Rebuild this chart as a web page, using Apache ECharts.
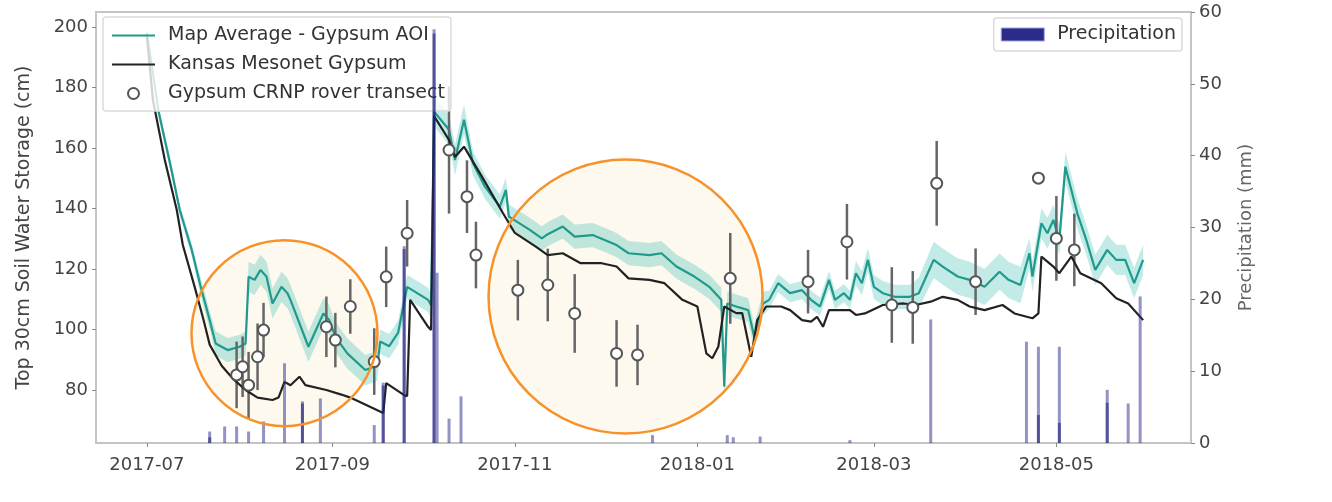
<!DOCTYPE html>
<html>
<head>
<meta charset="utf-8">
<title>Gypsum soil water storage</title>
<script src="https://cdn.jsdelivr.net/npm/echarts@6/dist/echarts.min.js"></script>
<style>
  html, body { margin: 0; padding: 0; background: #fff; }
  #chart { width: 1332px; height: 502px; }
</style>
</head>
<body>
<div id="chart"></div>
<script>
// ---- data ----
// Kansas Mesonet Gypsum (cm)
const mesoDates = ['2017-07-01', '2017-07-03', '2017-07-04', '2017-07-07', '2017-07-11', '2017-07-13', '2017-07-17', '2017-07-20', '2017-07-22', '2017-07-26', '2017-07-30',
  '2017-08-03', '2017-08-07', '2017-08-12', '2017-08-14', '2017-08-16', '2017-08-18', '2017-08-21', '2017-08-23', '2017-08-30',
  '2017-09-04', '2017-09-07', '2017-09-18', '2017-09-19', '2017-09-25', '2017-09-26', '2017-09-27',
  '2017-10-03', '2017-10-04', '2017-10-05', '2017-10-10', '2017-10-12', '2017-10-15', '2017-10-21', '2017-10-28',
  '2017-11-01', '2017-11-08', '2017-11-12', '2017-11-17', '2017-11-23', '2017-11-30',
  '2017-12-05', '2017-12-09', '2017-12-16', '2017-12-21', '2017-12-27',
  '2018-01-01', '2018-01-04', '2018-01-06', '2018-01-08', '2018-01-10', '2018-01-14', '2018-01-16', '2018-01-19', '2018-01-21', '2018-01-24', '2018-01-29',
  '2018-02-01', '2018-02-05', '2018-02-08', '2018-02-10', '2018-02-12', '2018-02-14', '2018-02-21', '2018-02-23', '2018-02-26',
  '2018-03-04', '2018-03-11', '2018-03-15', '2018-03-20', '2018-03-24', '2018-03-29',
  '2018-04-02', '2018-04-07', '2018-04-13', '2018-04-17', '2018-04-23', '2018-04-25', '2018-04-26', '2018-04-30',
  '2018-05-02', '2018-05-06', '2018-05-09', '2018-05-16', '2018-05-21', '2018-05-25', '2018-05-30'];
const mesoVals = [197, 176, 171, 156, 139.5, 128, 114, 103, 95, 88, 83.5,
  80, 77.5, 76.7, 77.5, 82.7, 81.6, 84.4, 81.6, 80,
  78.5, 77.5, 72.4, 82.3, 78.3, 78, 109.8,
  100.9, 99.8, 170.5, 162.6, 157, 160.4, 150.5, 138.5,
  131.9, 127.4, 124.6, 125.2, 121.9, 121.9,
  120.8, 116.9, 116.4, 115.3, 109.8,
  107.6, 92.1, 90.5, 94.3, 107.6, 105.4, 105.4, 91, 103.1, 107.6, 107.6,
  106.4, 103.1, 102.6, 104.2, 100.9, 106.4, 106.4, 104.8, 105.3,
  108.1, 108.6, 108.1, 109.2, 110.8, 109.8,
  107.6, 106.4, 108.1, 105.3, 103.7, 105.3, 124.1, 120.8,
  118.6, 124.1, 118.6, 115.3, 110.3, 108.6, 103.1];

// Map Average - Gypsum AOI (cm) and half width of its shaded band (cm)
const mapDates = ['2017-07-01', '2017-07-05', '2017-07-09', '2017-07-12', '2017-07-16', '2017-07-19', '2017-07-22', '2017-07-24', '2017-07-28',
  '2017-08-01', '2017-08-03', '2017-08-04', '2017-08-06', '2017-08-08', '2017-08-10', '2017-08-12', '2017-08-15', '2017-08-17', '2017-08-18', '2017-08-24', '2017-08-29', '2017-08-31',
  '2017-09-02', '2017-09-06', '2017-09-12', '2017-09-16', '2017-09-17', '2017-09-20', '2017-09-23', '2017-09-26',
  '2017-10-03', '2017-10-04', '2017-10-05', '2017-10-10', '2017-10-12', '2017-10-15', '2017-10-18', '2017-10-22', '2017-10-27', '2017-10-29', '2017-10-30',
  '2017-11-06', '2017-11-10', '2017-11-12', '2017-11-17', '2017-11-21', '2017-11-27',
  '2017-12-01', '2017-12-05', '2017-12-09', '2017-12-16', '2017-12-20', '2017-12-25', '2017-12-31',
  '2018-01-05', '2018-01-09', '2018-01-10', '2018-01-11', '2018-01-14', '2018-01-18', '2018-01-20', '2018-01-23', '2018-01-25', '2018-01-28',
  '2018-02-01', '2018-02-05', '2018-02-08', '2018-02-11', '2018-02-14', '2018-02-16', '2018-02-19', '2018-02-21', '2018-02-23', '2018-02-25', '2018-02-27',
  '2018-03-01', '2018-03-04', '2018-03-08', '2018-03-13', '2018-03-16', '2018-03-21', '2018-03-24', '2018-03-29',
  '2018-04-02', '2018-04-07', '2018-04-12', '2018-04-15', '2018-04-19', '2018-04-22', '2018-04-23', '2018-04-26', '2018-04-28', '2018-04-30',
  '2018-05-02', '2018-05-04', '2018-05-08', '2018-05-11', '2018-05-14', '2018-05-18', '2018-05-21', '2018-05-24', '2018-05-27', '2018-05-30'];
const mapAvg = [198, 171.6, 153.8, 139.5, 126.3, 114.1, 103.1, 95.4, 93.2,
  94.3, 95.4, 117.4, 116.4, 119.7, 117.4, 108.6, 114.1, 112, 109.8, 94.3, 105.3, 103.1,
  97.6, 92.1, 86.6, 88, 96, 94.5, 99, 114.1,
  109.8, 108, 172, 166, 156, 169.3, 154.9, 147.2, 140.6, 146.1, 137.3,
  132.9, 130.1, 131.5, 134, 130.7, 131.2,
  129.6, 127.9, 125.2, 124.6, 125.2, 120.8, 117.5,
  114.1, 109.8, 81.1, 108.6, 107.6, 106.4, 97.6, 108.6, 109.8, 115.3,
  112, 113, 109.8, 107.6, 116.4, 109.8, 112, 109.8, 118.6, 115.3, 123,
  114.1, 112, 110.8, 110.8, 112, 123, 120.8, 117.5,
  116.4, 114.1, 119.1, 116.4, 114.7, 125.2, 117.5, 135.1, 131.8, 136.2,
  129.6, 153.8, 138.4, 129.6, 119.7, 126.3, 123, 123, 115.3, 123];
const mapSpread = [2, 2, 2, 2, 2, 3, 3, 4, 4,
  4, 4, 5, 5, 5, 5, 5, 5, 5, 5, 5, 5, 5,
  5, 5, 5, 5, 4, 4, 4, 4,
  4, 4, 5, 5, 5, 5, 4, 4, 4, 4, 4,
  4, 4, 4, 4, 4, 4,
  4, 4, 4, 4, 4, 4, 4,
  4, 4, 3, 4, 4, 4, 4, 4, 3, 3,
  3, 3, 3, 3, 3, 3, 3, 3, 4, 4, 4,
  4, 4, 4, 4, 5, 6, 6, 6,
  6, 6, 6, 6, 6, 5, 5, 5, 5, 5,
  5, 5, 5, 5, 5, 5, 5, 5, 5, 5];

// Gypsum CRNP rover transect (cm) with error bar half length (cm)
const roverDates = ['2017-07-31', '2017-08-02', '2017-08-04', '2017-08-07', '2017-08-09', '2017-08-30', '2017-09-02', '2017-09-07', '2017-09-15', '2017-09-19',
  '2017-09-26', '2017-10-10', '2017-10-16', '2017-10-19', '2017-11-02', '2017-11-12', '2017-11-21', '2017-12-05', '2017-12-12', '2018-01-12',
  '2018-02-07', '2018-02-20', '2018-03-07', '2018-03-14', '2018-03-22', '2018-04-04', '2018-04-25', '2018-05-01', '2018-05-07'];
const roverVals = [85, 87.7, 81.6, 91, 99.8, 100.9, 96.5, 107.6, 89.4, 117.4,
  131.8, 159.3, 143.9, 124.6, 113, 114.7, 105.3, 92.1, 91.6, 116.9,
  115.8, 129, 108.1, 107.3, 148.3, 115.8, 150, 130.1, 126.3];
const roverErr = [11, 10, 11, 11, 9, 10, 9, 9, 11, 10,
  11, 21, 12, 11, 10, 12, 13, 11, 10, 15,
  10.5, 12.5, 12.5, 12, 14, 11, 0, 14, 12];

// Precipitation (mm)
const rainDates = ['2017-07-22', '2017-07-27', '2017-07-31', '2017-08-04', '2017-08-09', '2017-08-16', '2017-08-22', '2017-08-28',
  '2017-09-15', '2017-09-18', '2017-09-25', '2017-10-05', '2017-10-06', '2017-10-10', '2017-10-14',
  '2017-12-17', '2018-01-11', '2018-01-13', '2018-01-22', '2018-02-21', '2018-03-20',
  '2018-04-21', '2018-04-25', '2018-05-02', '2018-05-18', '2018-05-25', '2018-05-29'];
const rainVals = [1.6, 2.3, 2.3, 1.6, 3.0, 11.1, 5.8, 6.2,
  2.5, 8.4, 27.4, 57.6, 23.7, 3.4, 6.5,
  1.1, 1.1, 0.8, 0.9, 0.4, 17.2,
  14.1, 13.4, 13.4, 7.4, 5.5, 20.4];
// second gauge, drawn on top (darker where the two overlap)
const rain2Dates = ['2017-07-22', '2017-08-22', '2017-09-18', '2017-09-25', '2017-10-05', '2018-04-25', '2018-05-02', '2018-05-18'];
const rain2Vals = [0.8, 5.5, 8.0, 27, 57, 3.9, 2.8, 5.6];

// axis ticks
const xTickDates = ['2017-07-01', '2017-09-01', '2017-11-01', '2018-01-01', '2018-03-01', '2018-05-01'];
const leftTicks = [80, 100, 120, 140, 160, 180, 200];

// annotation circles: centre in data units, radius in px
const ringCentres = [['2017-08-16', 98.8], ['2017-12-08', 110.9]];
const ringRadii = [93, 137];

// ---- chart ----
const FONT = 'DejaVu Sans';
const GREY = '#c4c4c4';
const TXT = '#444';

// 'YYYY-MM-DD' -> local timestamp
function parse(s) {
  const p = s.split('-').map(Number);
  return new Date(p[0], p[1] - 1, p[2]).getTime();
}
function fmtMonth(v) {
  const d = new Date(v);
  const m = d.getMonth() + 1;
  return d.getFullYear() + '-' + (m < 10 ? '0' + m : m);
}

const zip = (a, b) => a.map((d, i) => [parse(d), b[i]]);
const xTicks = xTickDates.map(parse);

const myChart = echarts.init(document.getElementById('chart'));

const legendBox = {
  backgroundColor: 'rgba(255,255,255,0.8)',
  borderColor: '#dcdcdc', borderWidth: 1.5, borderRadius: 3,
  textStyle: { fontFamily: FONT, fontSize: 19, color: '#333', padding: [0, 0, 0, 8] },
};

const option = {
  animation: false,
  textStyle: { fontFamily: FONT },
  grid: {
    left: 96, right: 141, top: 12, bottom: 59,
    show: true, borderColor: GREY, borderWidth: 2, backgroundColor: 'transparent',
  },
  legend: [
    Object.assign({
      data: [
        { name: 'Map Average - Gypsum AOI', itemStyle: { opacity: 0 } },
        { name: 'Kansas Mesonet Gypsum', itemStyle: { opacity: 0 } },
        { name: 'Gypsum CRNP rover transect' },
      ],
      orient: 'vertical',
      left: 103, top: 17,
      itemWidth: 43, itemHeight: 11, itemGap: 10,
      padding: [9, 6, 8, 8],
    }, legendBox),
    Object.assign({
      data: [{ name: 'Precipitation', icon: 'rect', itemStyle: { color: '#2b2b8a', borderColor: '#a0a0e0', borderWidth: 1 } }],
      right: 150, top: 18,
      itemWidth: 43, itemHeight: 13,
      padding: [7, 6, 7, 7],
      z: 10,
    }, legendBox),
  ],
  xAxis: {
    type: 'value',
    min: parse('2017-06-14'),
    max: parse('2018-06-15'),
    axisLine: { show: true, lineStyle: { color: GREY, width: 2 } },
    axisTick: { show: true, length: 4, lineStyle: { color: '#888' }, customValues: xTicks },
    axisLabel: {
      customValues: xTicks,
      formatter: fmtMonth,
      fontFamily: FONT, fontSize: 18, color: TXT, margin: 13,
    },
    splitLine: { show: false },
  },
  yAxis: [
    {
      type: 'value',
      min: 62.5, max: 204.9,
      name: 'Top 30cm Soil Water Storage (cm)',
      nameLocation: 'middle', nameRotate: 90, nameGap: 62,
      nameTextStyle: { fontFamily: FONT, fontSize: 19, color: TXT },
      axisLine: { show: true, lineStyle: { color: GREY, width: 2 } },
      axisTick: { show: true, length: 4, lineStyle: { color: '#888' }, customValues: leftTicks },
      axisLabel: { customValues: leftTicks, fontFamily: FONT, fontSize: 18, color: TXT, margin: 8 },
      splitLine: { show: false },
    },
    {
      type: 'value',
      min: 0, max: 60, interval: 10,
      position: 'right',
      name: 'Precipitation (mm)',
      nameLocation: 'middle', nameRotate: 90, nameGap: 46,
      nameTextStyle: { fontFamily: FONT, fontSize: 18, color: '#666' },
      axisLine: { show: true, lineStyle: { color: GREY, width: 2 } },
      axisTick: { show: true, length: 4, lineStyle: { color: '#888' } },
      axisLabel: { fontFamily: FONT, fontSize: 18, color: TXT, margin: 8 },
      splitLine: { show: false },
    },
  ],
  series: [
    {
      // precipitation sits on the twin axis, drawn above the left legend
      name: 'rain', type: 'bar', yAxisIndex: 1,
      data: zip(rainDates, rainVals),
      barWidth: 3, barGap: '-100%',
      itemStyle: { color: 'rgba(40,40,140,0.5)' },
      z: 8, silent: true,
    },
    {
      name: 'Precipitation', type: 'bar', yAxisIndex: 1,
      data: zip(rain2Dates, rain2Vals),
      barWidth: 3, barGap: '-100%',
      itemStyle: { color: 'rgba(30,30,120,0.55)' },
      z: 8, silent: true,
    },
    {
      // shaded spread of the map average, one polygon through the axis scales
      name: 'band', type: 'custom',
      data: [[parse(mapDates[0]), mapAvg[0]]],
      renderItem: function(params, api) {
        const pts = [];
        for (let i = 0; i < mapDates.length; i++) {
          pts.push(api.coord([parse(mapDates[i]), mapAvg[i] + mapSpread[i]]));
        }
        for (let i = mapDates.length - 1; i >= 0; i--) {
          pts.push(api.coord([parse(mapDates[i]), mapAvg[i] - mapSpread[i]]));
        }
        return {
          type: 'polygon',
          shape: { points: pts },
          style: { fill: 'rgba(80,195,185,0.35)', stroke: null },
        };
      },
      z: 2, silent: true,
    },
    {
      name: 'Map Average - Gypsum AOI', type: 'line',
      data: zip(mapDates, mapAvg), symbol: 'none',
      itemStyle: { color: '#1f9a8c' },
      lineStyle: { color: '#1f9a8c', width: 2.2 },
      z: 2,
    },
    {
      name: 'Kansas Mesonet Gypsum', type: 'line',
      data: zip(mesoDates, mesoVals), symbol: 'none',
      itemStyle: { color: '#222' },
      lineStyle: { color: '#222', width: 2.2 },
      z: 3,
    },
    {
      name: 'errbars', type: 'custom',
      data: roverDates.map((d, i) => [parse(d), roverVals[i], roverErr[i]]),
      renderItem: function(params, api) {
        const top = api.coord([api.value(0), api.value(1) + api.value(2)]);
        const bot = api.coord([api.value(0), api.value(1) - api.value(2)]);
        return {
          type: 'line',
          shape: { x1: top[0], y1: top[1], x2: bot[0], y2: bot[1] },
          style: { stroke: '#666', lineWidth: 2.5 },
        };
      },
      z: 3, silent: true,
    },
    {
      name: 'Gypsum CRNP rover transect', type: 'scatter',
      data: zip(roverDates, roverVals),
      symbol: 'circle', symbolSize: 11,
      itemStyle: { color: '#fff', borderColor: '#555', borderWidth: 2, opacity: 1 },
      z: 3,
    },
  ],
};

myChart.setOption(option);

// orange annotation rings, placed from data coordinates
const rings = [];
ringCentres.forEach((c, i) => {
  const p = myChart.convertToPixel({ xAxisIndex: 0, yAxisIndex: 0 }, [parse(c[0]), c[1]]);
  rings.push({
    type: 'circle', z: 1, silent: true,
    shape: { cx: p[0], cy: p[1], r: ringRadii[i] },
    style: { fill: 'rgba(250,238,205,0.35)', stroke: null },
  });
  rings.push({
    type: 'circle', z: 50, silent: true,
    shape: { cx: p[0], cy: p[1], r: ringRadii[i] },
    style: { fill: null, stroke: '#f7922a', lineWidth: 2.5 },
  });
});
myChart.setOption({ graphic: rings });
</script>
</body>
</html>
